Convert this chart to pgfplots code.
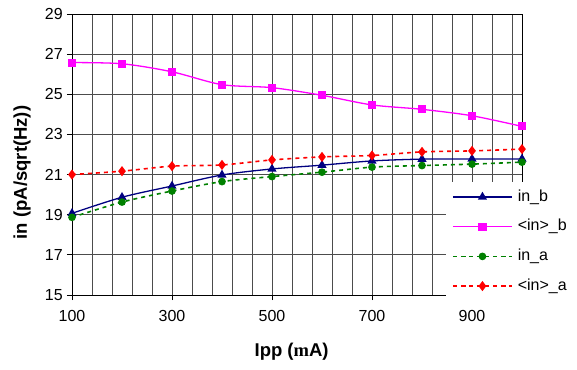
\documentclass[border=0pt]{standalone}
\usepackage{fontspec}
\setmainfont{Liberation Sans}
\newfontfamily\serifm{Liberation Serif}
\usepackage{pgfplots}
\pgfplotsset{compat=1.18}
\definecolor{navyc}{RGB}{0,0,128}
\definecolor{magc}{RGB}{255,0,255}
\definecolor{grnc}{RGB}{0,128,0}
\definecolor{redc}{RGB}{255,0,0}
\begin{document}
\begin{tikzpicture}[x=1pt,y=1pt]
\path[use as bounding box] (-72,-74) rectangle (505,295);
\begin{axis}[
  at={(0,0)}, anchor=south west,
  scale only axis, width=450pt, height=281pt,
  xmin=100, xmax=1000, ymin=15, ymax=29,
  xtick={100,300,500,700,900},
  minor xtick={140,180,...,980},
  ytick={15,17,...,29},
  grid=both,
  major grid style={black!70, line width=0.8pt},
  minor grid style={black!70, line width=0.8pt},
  minor tick length=0pt,
  major tick length=5pt,
  tick align=outside,
  tick style={black, line width=0.8pt},
  xtick pos=bottom, ytick pos=left,
  axis line style={black, line width=0.8pt},
  /pgf/number format/assume math mode=true,
  /pgf/number format/1000 sep={},
  ticklabel style={font=\fontsize{16}{18}\selectfont},
  xticklabel style={yshift=-7pt},
  yticklabel style={xshift=-0.7pt},
  label style={font=\fontsize{18.5}{21}\selectfont\bfseries},
  xlabel={Ipp ({\serifm m}A)},
  ylabel={in (pA/sqrt(Hz))},
  xlabel style={at={(axis description cs:0.488,-0.2018)}, anchor=center},
  ylabel style={at={(axis description cs:-0.1111,0.436)}, anchor=center},
  legend style={at={(axis description cs:0.831,0.402)}, anchor=north west,
    draw=none, fill=white, inner xsep=6pt, inner ysep=7pt,
    font=\fontsize{16}{18}\selectfont, row sep=14.2pt, column sep=5pt,
    nodes={inner sep=0pt, text height=12pt, text depth=3.5pt}},
  legend cell align=left,
  legend image code/.code={\draw[mark repeat=2, mark phase=2, #1] plot coordinates {(0pt,0pt) (29.5pt,0pt) (59pt,0pt)};},
]
\addplot[navyc, line width=1.3pt, smooth, mark=triangle*, mark size=4pt, mark options={solid, fill=navyc}]
 coordinates {(100,19.07) (200,19.87) (300,20.43) (400,20.98) (500,21.28) (600,21.47) (700,21.68) (800,21.77) (900,21.78) (1000,21.78)};
\addlegendentry{in\_b}
\addplot[magc, line width=1.3pt, smooth, mark=square*, mark size=3.4pt, mark options={solid, fill=magc}]
 coordinates {(100,26.58) (200,26.52) (300,26.12) (400,25.48) (500,25.33) (600,24.95) (700,24.47) (800,24.25) (900,23.93) (1000,23.4)};
\addlegendentry{<in>\_b}
\addplot[grnc, line width=1.6pt, smooth, dash pattern=on 4pt off 4pt, mark=*, mark size=3pt, mark options={solid, fill=grnc}]
 coordinates {(100,18.87) (200,19.63) (300,20.18) (400,20.65) (500,20.9) (600,21.12) (700,21.37) (800,21.45) (900,21.52) (1000,21.62)};
\addlegendentry{in\_a}
\addplot[redc, line width=1.6pt, smooth, dash pattern=on 4pt off 4pt, mark=diamond*, mark size=3.8pt, mark options={solid, fill=redc}]
 coordinates {(100,21.0) (200,21.17) (300,21.42) (400,21.48) (500,21.73) (600,21.88) (700,21.95) (800,22.13) (900,22.18) (1000,22.27)};
\addlegendentry{<in>\_a}
\end{axis}
\end{tikzpicture}
\end{document}
